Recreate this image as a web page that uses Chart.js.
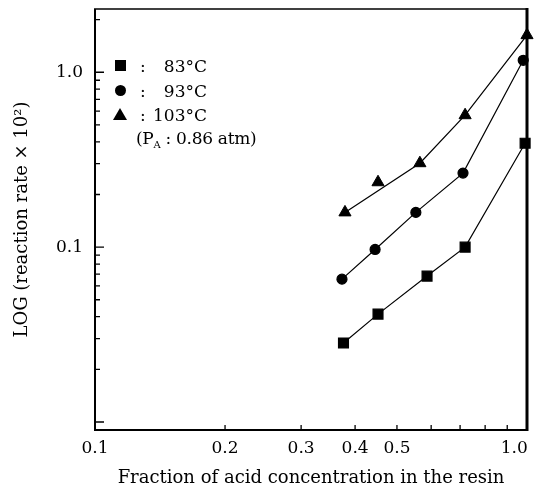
<!DOCTYPE html>
<html>
<head>
<meta charset="utf-8">
<script src="https://cdn.jsdelivr.net/npm/chart.js@4.4.0/dist/chart.umd.min.js"></script>
<style>
  body { margin: 0; background: #fff; }
  #wrap { position: relative; width: 537px; height: 492px; }
  .leg { position: absolute; font-family: "DejaVu Serif", serif; font-size: 17px; line-height: 20px; color: #000; white-space: nowrap; }
  .mk { position: absolute; background: #000; }
  .tri { position: absolute; width: 0; height: 0; border-left: 7px solid transparent; border-right: 7px solid transparent; border-bottom: 12px solid #000; }
</style>
</head>
<body>
<div id="wrap">
  <canvas id="chart" width="537" height="492"></canvas>
  <div id="legend"></div>
</div>
<script>
// ---- data ----
const sqX   = [0.376, 0.452, 0.587, 0.719, 0.99];
const sqY   = [0.0283, 0.0414, 0.0683, 0.100, 0.393];
const circX = [0.373, 0.445, 0.553, 0.711, 0.98];
const circY = [0.0656, 0.097, 0.158, 0.265, 1.17];
const triX  = [0.379, 0.452, 0.565, 0.719, 1.0];
const triY  = [0.158, 0.235, 0.302, 0.568, 1.63];
const triLineIdx = [0, 2, 3, 4];   // the drawn line skips the 2nd triangle

const xTicks = [0.1, 0.2, 0.3, 0.4, 0.5, 1.0];
const yTicks = [0.1, 1.0];
const legendLabels = ['83°C', '93°C', '103°C'];
const xTitle = 'Fraction of acid concentration in the resin';
const yTitle = 'LOG (reaction rate × 10²)';

const font = { family: '"DejaVu Serif", serif', size: 17 };
const pts = (xs, ys) => xs.map((x, i) => ({ x, y: ys[i] }));

// inward ticks + frame drawn over the plot
const frameTicks = {
    id: 'frameTicks',
    afterDraw(chart) {
        const { ctx, chartArea: a, scales: { x, y } } = chart;
        ctx.save();
        ctx.strokeStyle = '#000';
        ctx.lineWidth = 1.3;
        ctx.beginPath();
        for (let k = 2; k <= 9; k++) {
            const px = x.getPixelForValue(k / 10);
            ctx.moveTo(px, a.bottom); ctx.lineTo(px, a.bottom - 5);
        }
        [0.001, 0.01, 0.1, 1].forEach(d => {
            for (let k = 1; k <= 9; k++) {
                const v = d * k;
                if (v < y.min || v > y.max) continue;
                const py = y.getPixelForValue(v);
                const len = k === 1 ? 9 : 5;
                ctx.moveTo(a.left, py); ctx.lineTo(a.left + len, py);
            }
        });
        ctx.stroke();
        const seg = (x1, y1, x2, y2, w) => {
            ctx.lineWidth = w; ctx.beginPath(); ctx.moveTo(x1, y1); ctx.lineTo(x2, y2); ctx.stroke();
        };
        seg(a.left - 1, a.top, a.right + 1, a.top, 1.5);
        seg(a.left, a.top, a.left, a.bottom, 2);
        seg(a.left - 1, a.bottom, a.right + 1, a.bottom, 2);
        seg(a.right, a.top - 1, a.right, a.bottom + 1, 3);
        ctx.restore();
    }
};

new Chart(document.getElementById('chart'), {
    type: 'scatter',
    data: {
        datasets: [
            { data: pts(sqX, sqY), showLine: true, pointStyle: 'rect', pointRadius: 7,
              borderColor: '#000', backgroundColor: '#000', borderWidth: 1.2, clip: false },
            { data: pts(circX, circY), showLine: true, pointStyle: 'circle', pointRadius: 5,
              borderColor: '#000', backgroundColor: '#000', borderWidth: 1.2, clip: false },
            { data: pts(triX, triY), showLine: false, pointStyle: 'triangle', pointRadius: 7,
              borderColor: '#000', backgroundColor: '#000', borderWidth: 1, clip: false },
            { data: triLineIdx.map(i => ({ x: triX[i], y: triY[i] })), showLine: true, pointRadius: 0,
              borderColor: '#000', borderWidth: 1.2, clip: false }
        ]
    },
    options: {
        responsive: false,
        animation: false,
        layout: { padding: { left: 0, right: 10, top: 9, bottom: 0 } },
        plugins: { legend: { display: false }, tooltip: { enabled: false } },
        scales: {
            x: {
                type: 'logarithmic', min: 0.1, max: 1.0,
                grid: { display: false, drawTicks: false }, border: { display: false },
                afterBuildTicks: s => { s.ticks = xTicks.map(v => ({ value: v })); },
                afterFit: s => { s.height = 62; s.paddingLeft = 0; s.paddingRight = 0; },
                ticks: { font, color: '#000', padding: 8, maxRotation: 0, autoSkip: false,
                         // last label sits left of the right border, as in the print
                         callback: v => Number(v).toFixed(1) + (v >= 1 ? '\u2002\u2002\u2002' : '') },
                title: { display: true, text: xTitle, font: { ...font, size: 18 }, color: '#000',
                         padding: { top: 0, bottom: 3 } }
            },
            y: {
                type: 'logarithmic', min: 0.009, max: 2.3,
                grid: { display: false, drawTicks: false }, border: { display: false },
                afterBuildTicks: s => { s.ticks = yTicks.map(v => ({ value: v })); },
                afterFit: s => { s.width = 95; s.paddingTop = 0; s.paddingBottom = 0; },
                ticks: { font, color: '#000', padding: 12, autoSkip: false,
                         callback: v => Number(v).toFixed(1) },
                title: { display: true, text: yTitle, font: { ...font, size: 18 }, color: '#000',
                         padding: { top: 12, bottom: 0 } }
            }
        }
    },
    plugins: [frameTicks]
});

// legend block in the upper left of the plot
const legend = document.getElementById('legend');
const rowsY = [66, 91, 115];
const markers = [
    '<div class="mk" style="left:115px;top:60px;width:11px;height:11px"></div>',
    '<div class="mk" style="left:115px;top:85px;width:11px;height:11px;border-radius:50%"></div>',
    '<div class="tri" style="left:113px;top:108px"></div>'
];
legend.innerHTML = markers.join('') + legendLabels.map((t, i) =>
    `<div class="leg" style="left:140px;top:${rowsY[i] - 10}px">:</div>` +
    `<div class="leg" style="left:149px;width:58px;text-align:right;top:${rowsY[i] - 10}px">${t}</div>`
).join('') +
    '<div class="leg" style="left:136px;top:128px;letter-spacing:-0.3px">(P<sub style="font-size:10px">A</sub> : 0.86 atm)</div>';
</script>
</body>
</html>
